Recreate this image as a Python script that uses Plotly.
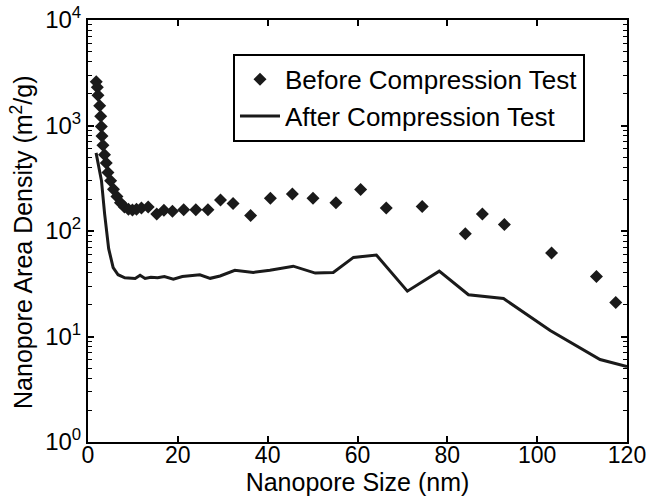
import plotly.graph_objects as go

# Before Compression Test (diamonds)
before_x = [1.84, 2.07, 2.22, 2.6, 2.82, 2.96, 3.11, 3.33, 3.67, 4.07, 4.44, 5.04, 5.67,
            6.44, 7.22, 8.11, 9.0, 9.89, 10.8, 11.9, 13.4, 15.3, 16.9, 18.8, 21.3, 24.0,
            26.7, 29.5, 32.3, 36.2, 40.6, 45.5, 50.1, 55.2, 60.7, 66.4, 74.4, 84.0, 87.8,
            92.7, 103.2, 113.2, 117.5]
before_y = [2600, 2300, 1935, 1540, 1227, 977, 796, 649, 528, 440, 358, 299, 249,
            212, 185, 169, 161, 158, 161, 165, 169, 145, 157, 154, 159, 159,
            159, 197, 182, 140, 204, 224, 204, 185, 247, 165, 171, 94, 145,
            115, 62, 37, 21]

# After Compression Test (line)
after_x = [1.8, 2.3, 3.0, 3.7, 4.6, 5.6, 6.7, 8.2, 9.5, 10.5, 11.6, 12.7, 14.0, 15.5,
           17.0, 19.0, 21.0, 24.9, 27.2, 29.4, 32.7, 36.8, 40.5, 45.7, 50.6, 54.6,
           59.1, 64.2, 71.1, 78.2, 84.7, 87.3, 92.5, 102.9, 114.0, 120.0]
after_y = [550, 420, 300, 145, 68, 45, 38.5, 36, 35.5, 35.5, 38, 35.5, 36.5, 36,
           37, 35, 37, 38.4, 35.6, 37.5, 42.4, 40.5, 42.4, 46.4, 39.9, 40.5,
           56.2, 59.2, 26.9, 41.6, 24.9, 24.2, 22.9, 11.4, 6.05, 5.2]

x_ticks = [0, 20, 40, 60, 80, 100, 120]
y_ticks = [1, 10, 100, 1000, 10000]
y_tick_text = ["10<sup>0</sup>", "10<sup>1</sup>", "10<sup>2</sup>", "10<sup>3</sup>", "10<sup>4</sup>"]

FONT = "Liberation Sans, Arial, sans-serif"
INK = "#1a1a1a"

fig = go.Figure()
fig.add_trace(go.Scatter(
    x=before_x, y=before_y, mode="markers", name="Before Compression Test",
    legendgroup="a",
    marker=dict(symbol="diamond", size=10, color=INK, line=dict(width=0)),
))
fig.add_trace(go.Scatter(
    x=after_x, y=after_y, mode="lines", name="After Compression Test",
    legendgroup="b",
    line=dict(color=INK, width=3),
))

fig.update_layout(
    width=647, height=499,
    margin=dict(l=88, r=20, t=20, b=57, autoexpand=False),
    paper_bgcolor="white", plot_bgcolor="white",
    font=dict(family=FONT, size=23, color="black"),
    showlegend=True,
    legend=dict(
        x=0.269, y=0.92, xanchor="left", yanchor="top",
        bordercolor="black", borderwidth=2, bgcolor="white",
        font=dict(size=26, family=FONT, color="black"),
        tracegroupgap=0,
        traceorder="grouped",
        itemwidth=40,
        entrywidth=356, entrywidthmode="pixels",
    ),
    annotations=[dict(
        text="Nanopore Area Density (m<sup>2</sup>/g)",
        xref="paper", yref="paper", x=-0.1225, y=0.5, yshift=-11,
        xanchor="center", yanchor="middle", textangle=-90, showarrow=False,
        font=dict(size=25, family=FONT, color="black"),
    )],
)
fig.update_xaxes(
    range=[0, 120], tickvals=x_ticks, ticks="inside", ticklen=6, tickwidth=1.5,
    tickcolor="black", showline=True, linecolor="black", linewidth=2,
    mirror="allticks", showgrid=False, zeroline=False, automargin=False,
    tickfont=dict(size=23, family=FONT), ticklabelstandoff=-9,
    title=dict(text="Nanopore Size (nm)", font=dict(size=25, family=FONT), standoff=3),
)
fig.update_yaxes(
    type="log", range=[0, 4], tickvals=y_ticks, ticktext=y_tick_text,
    ticks="inside", ticklen=6, tickwidth=1.5, tickcolor="black",
    minor=dict(ticks="inside", ticklen=4, tickcolor="black", tickwidth=1,
               dtick="D1", showgrid=False),
    showline=True, linecolor="black", linewidth=2, mirror="allticks",
    showgrid=False, zeroline=False, automargin=False,
    tickfont=dict(size=24, family=FONT),
)

fig.write_html("out.html", config={"displayModeBar": False},
               post_script="document.body.style.margin='0';")
